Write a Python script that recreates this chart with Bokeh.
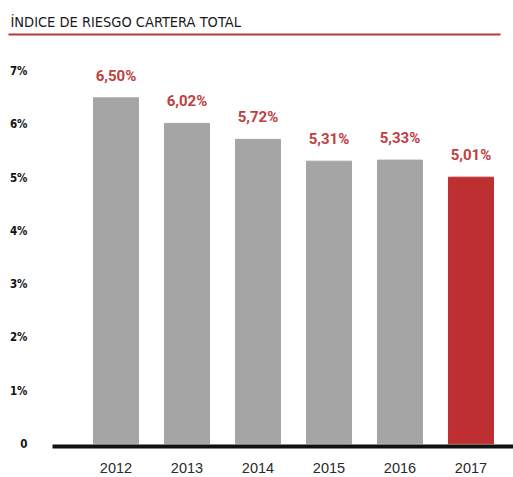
from bokeh.plotting import figure
from bokeh.models import Range1d, FixedTicker, ColumnDataSource, LinearAxis
from bokeh.core.properties import value
from bokeh.embed import file_html
from bokeh.resources import INLINE

years = ["2012", "2013", "2014", "2015", "2016", "2017"]
risk = [6.50, 6.02, 5.72, 5.31, 5.33, 5.01]
colors = ["#a5a5a5", "#a5a5a5", "#a5a5a5", "#a5a5a5", "#a5a5a5", "#bd2f30"]
y_ticks = [0, 1, 2, 3, 4, 5, 6, 7]
y_tick_labels = ["0", "1%", "2%", "3%", "4%", "5%", "6%", "7%"]
title_text = "ÍNDICE DE RIESGO CARTERA TOTAL"

xs = list(range(len(years)))
labels = [f"{v:.2f}".replace(".", ",") + "%" for v in risk]
src = ColumnDataSource(dict(x=xs, top=risk, color=colors, label=labels))

p = figure(width=513, height=477, output_backend="svg", toolbar_location=None,
           x_range=Range1d(-1.514, 5.599), y_range=Range1d(-0.05, 7.69),
           x_axis_location=None, y_axis_location=None,
           min_border_left=8, min_border_right=0, min_border_top=34,
           min_border_bottom=31, title=title_text)

p.title.align = "left"
p.title.offset = 2
p.title.text_font = "DejaVu Sans Condensed, Roboto"
p.title.text_font_size = "14.5px"
p.title.text_font_style = "normal"
p.title.text_color = "#1a1a1a"

# red rule under the title, drawn as an unlabeled top axis
rule = LinearAxis(ticker=FixedTicker(ticks=[]), bounds=(-1.514, 5.416),
                  axis_line_color="#b8383c", axis_line_width=2,
                  major_tick_line_color=None, minor_tick_line_color=None,
                  major_label_text_font_size="0px")
p.add_layout(rule, "above")

# baseline with year labels
xa = LinearAxis(ticker=FixedTicker(ticks=xs), bounds=(-0.894, 5.599),
                major_label_overrides={i: y for i, y in zip(xs, years)},
                axis_line_width=4, axis_line_color="#111111",
                major_tick_line_color=None, minor_tick_line_color=None,
                major_label_standoff=10,
                major_label_text_font="Liberation Sans",
                major_label_text_font_size="14.5px",
                major_label_text_color="#2a2a2a")
p.add_layout(xa, "below")

# percentage labels on the left (drawn just inside the frame)
ya = LinearAxis(ticker=FixedTicker(ticks=y_ticks),
                major_label_overrides={t: l for t, l in zip(y_ticks, y_tick_labels)},
                axis_line_color=None, major_tick_line_color=None,
                minor_tick_line_color=None, major_label_standoff=-25,
                major_label_text_font="DejaVu Sans Condensed, Roboto",
                major_label_text_font_style="bold",
                major_label_text_font_size="11.5px",
                major_label_text_color="#111111")
p.add_layout(ya, "left")

p.vbar(x="x", top="top", bottom=0, width=0.634, color="color", source=src)
p.text(x="x", y="top", text="label", source=src, text_align="center",
       text_baseline="middle", y_offset=-22, text_color="#c0403f",
       text_font=value("Roboto"), text_font_style="bold", text_font_size="15px")

p.xgrid.visible = False
p.ygrid.visible = False
p.outline_line_color = None

open("out.html", "w").write(file_html(p, INLINE))
